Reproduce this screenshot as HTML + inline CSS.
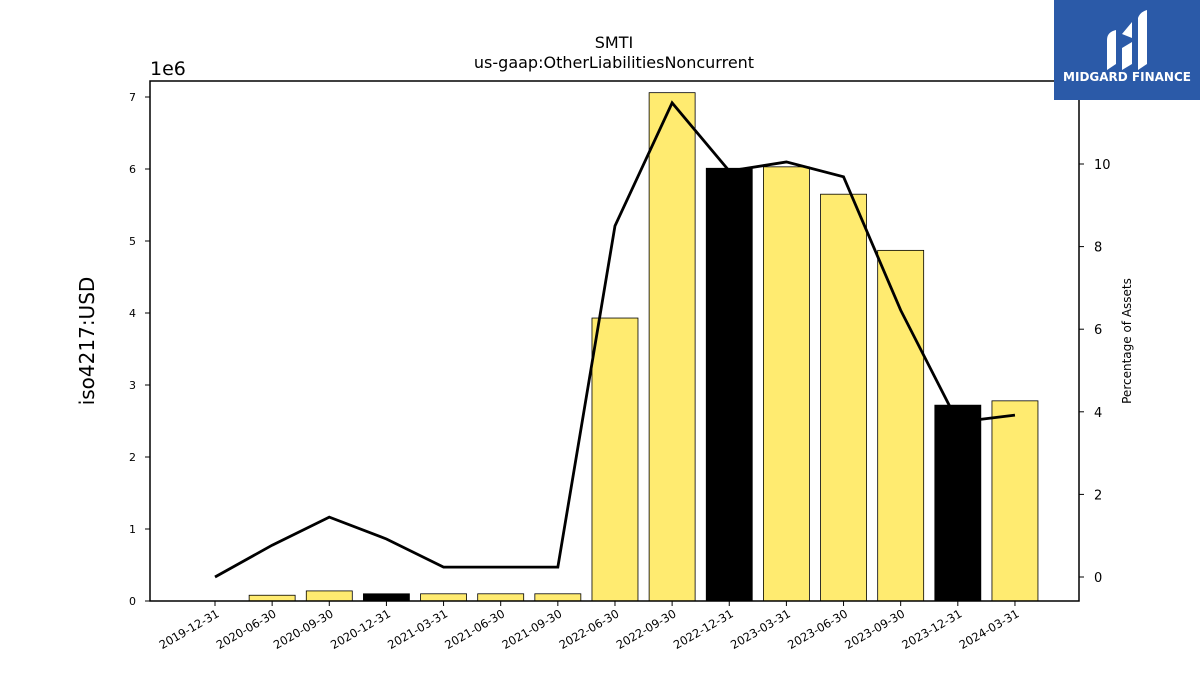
<!DOCTYPE html>
<html><head><meta charset="utf-8"><style>
body{margin:0;background:#fff;font-family:"Liberation Sans","DejaVu Sans",sans-serif}
svg text{font-family:"DejaVu Sans","Liberation Sans",sans-serif}
</style></head><body>
<svg id="c" width="1200" height="675" xmlns="http://www.w3.org/2000/svg">
<text x="614" y="48" font-size="16" text-anchor="middle">SMTI</text>
<text x="614" y="68" font-size="16" text-anchor="middle">us-gaap:OtherLiabilitiesNoncurrent</text>
<text x="150" y="75" font-size="19">1e6</text>
<text transform="translate(94,341) rotate(-90)" font-size="20" text-anchor="middle">iso4217:USD</text>
<text transform="translate(1131,341) rotate(-90)" font-size="12" text-anchor="middle">Percentage of Assets</text>
<g id="bars"></g><g id="ax"></g>
<rect x="150" y="81" width="929" height="520" fill="none" stroke="#000" stroke-width="1.5"/>
<g>
<rect x="1054" y="0" width="146" height="100" fill="#2b5aa8"/>
<path d="M1107 70 V40 Q1107 32 1116 30 V64 Z M1122 70 V48 L1132 42 V64 Z M1138 70 V18 Q1140 12 1147 10 V64 Z M1122 34 L1132 22 V38 Z" fill="#fff"/>
<text x="1127" y="81" font-size="12" font-weight="bold" fill="#fff" text-anchor="middle">MIDGARD FINANCE</text>
</g>
</svg>
<script>
const categories=["2019-12-31","2020-06-30","2020-09-30","2020-12-31","2021-03-31","2021-06-30","2021-09-30","2022-06-30","2022-09-30","2022-12-31","2023-03-31","2023-06-30","2023-09-30","2023-12-31","2024-03-31"];
const barValues=[0,0.08,0.14,0.1,0.1,0.1,0.1,3.93,7.06,6.01,6.03,5.65,4.87,2.72,2.78];
const barIsYearEnd=[1,0,0,1,0,0,0,0,0,1,0,0,0,1,0];
const pctValues=[0,0.77,1.45,0.92,0.24,0.24,0.24,8.5,11.48,9.83,10.05,9.69,6.46,3.75,3.92];
const leftTicks=[0,1,2,3,4,5,6,7];
const rightTicks=[0,2,4,6,8,10];
const NS="http://www.w3.org/2000/svg";
const xS=i=>215+i*57.14;
const yL=v=>601-v*72;
const yR=v=>577-v*41.3;
function mk(t,a,p){const e=document.createElementNS(NS,t);for(const k in a)e.setAttribute(k,a[k]);p.appendChild(e);return e;}
const bars=document.getElementById('bars'),ax=document.getElementById('ax');
barValues.forEach((v,i)=>{
 const r=mk('rect',{x:xS(i)-23,y:yL(v),width:46,height:601-yL(v),fill:barIsYearEnd[i]?'#000':'#ffeb70',stroke:'#000','stroke-width':0.8},bars);
 
 
});
const pts=pctValues.map((v,i)=>xS(i)+','+yR(v)).join(' ');
const ln=mk('polyline',{points:pts,fill:'none',stroke:'#000','stroke-width':2.8},bars);


leftTicks.forEach(t=>{
 mk('line',{x1:145,x2:150,y1:yL(t),y2:yL(t),stroke:'#000'},ax);
 const tx=mk('text',{x:136,y:yL(t)+4,'font-size':11,'text-anchor':'end'},ax);tx.textContent=t;
 
 
});
rightTicks.forEach(t=>{
 mk('line',{x1:1079,x2:1084,y1:yR(t),y2:yR(t),stroke:'#000'},ax);
 const tx=mk('text',{x:1094,y:yR(t)+5,'font-size':13},ax);tx.textContent=t;
 
 
});
categories.forEach((c,i)=>{
 mk('line',{x1:xS(i),x2:xS(i),y1:601,y2:606,stroke:'#000'},ax);
 const tx=mk('text',{transform:`translate(${xS(i)+5},616) rotate(-30)`,'font-size':11.5,'text-anchor':'end'},ax);tx.textContent=c;
 
 
});
</script>
</body></html>
